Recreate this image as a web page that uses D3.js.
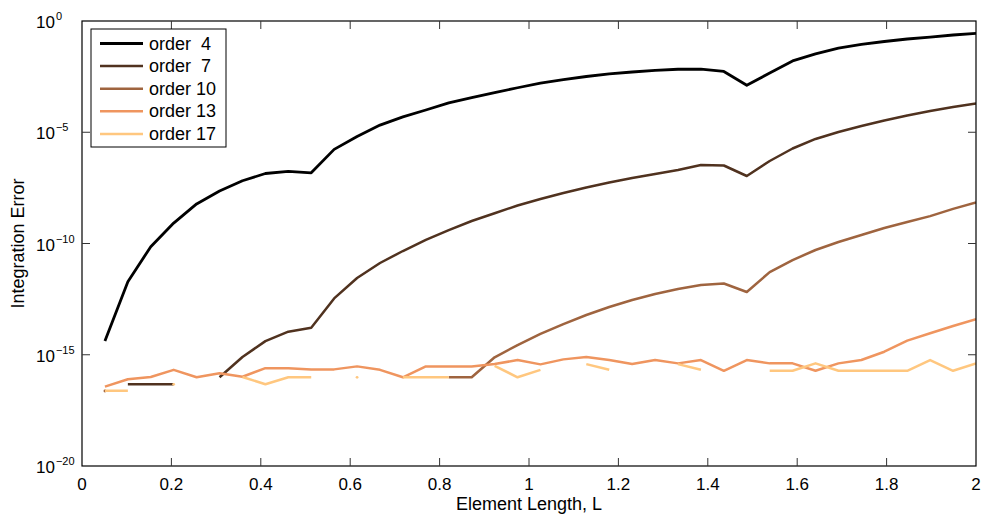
<!DOCTYPE html>
<html>
<head>
<meta charset="utf-8">
<script src="https://cdn.jsdelivr.net/npm/d3@7"></script>
<style>
html,body{margin:0;padding:0;background:#fff;}
svg{display:block;font-family:"Liberation Sans",Arial,Helvetica,sans-serif;}
</style>
</head>
<body>
<div id="chart"></div>
<script>
// element lengths (x)
const lengths = [0.0513,0.1026,0.1538,0.2051,0.2564,0.3077,0.3590,0.4103,0.4615,0.5128,
0.5641,0.6154,0.6667,0.7179,0.7692,0.8205,0.8718,0.9231,0.9744,1.0256,
1.0769,1.1282,1.1795,1.2308,1.2821,1.3333,1.3846,1.4359,1.4872,1.5385,
1.5897,1.6410,1.6923,1.7436,1.7949,1.8462,1.8974,1.9487,2.0000];

// integration error per order (null = exact / not drawn)
const errOrder4 = [4.2e-15,1.9e-12,7.2e-11,8.3e-10,6.0e-9,2.3e-8,6.6e-8,1.4e-7,1.75e-7,1.5e-7,
1.7e-6,6.5e-6,2.1e-5,4.9e-5,1.0e-4,2.1e-4,3.6e-4,6.1e-4,1.0e-3,1.6e-3,
2.3e-3,3.2e-3,4.2e-3,5.1e-3,6.0e-3,6.8e-3,6.9e-3,5.4e-3,1.3e-3,4.6e-3,
1.6e-2,3.3e-2,6.1e-2,8.8e-2,0.12,0.155,0.19,0.235,0.28];

const errOrder7 = [null,4.7e-17,4.7e-17,4.7e-17,null,9.7e-17,7.9e-16,4.1e-15,1.09e-14,1.64e-14,
3.4e-13,2.8e-12,1.33e-11,4.6e-11,1.44e-10,4.0e-10,1.03e-9,2.3e-9,5.1e-9,1.0e-8,
1.86e-8,3.3e-8,5.5e-8,8.8e-8,1.33e-7,2.0e-7,3.4e-7,3.2e-7,1.08e-7,5.1e-7,
1.86e-6,5.0e-6,1.03e-5,1.9e-5,3.4e-5,5.7e-5,9.0e-5,1.36e-4,1.96e-4];

const errOrder10 = [2.35e-17,null,null,null,null,null,null,null,null,null,
null,null,null,null,null,9.7e-17,9.7e-17,7.7e-16,2.7e-15,8.6e-15,
2.4e-14,6.1e-14,1.4e-13,2.9e-13,5.4e-13,9.0e-13,1.36e-12,1.6e-12,6.6e-13,5.2e-12,
1.8e-11,5.1e-11,1.17e-10,2.4e-10,5.0e-10,9.2e-10,1.7e-9,3.6e-9,7.0e-9];

const errOrder13 = [3.7e-17,7.9e-17,1.0e-16,2.1e-16,9.7e-17,1.47e-16,1.03e-16,2.5e-16,2.5e-16,2.2e-16,
2.2e-16,3.0e-16,2.1e-16,9.7e-17,3.0e-16,3.0e-16,3.0e-16,3.8e-16,5.8e-16,3.7e-16,
6.2e-16,7.9e-16,5.8e-16,3.8e-16,5.8e-16,4.1e-16,5.8e-16,1.9e-16,5.8e-16,4.1e-16,
4.1e-16,1.9e-16,4.1e-16,5.8e-16,1.37e-15,4.3e-15,9.2e-15,1.96e-14,4.0e-14];

const errOrder17 = [2.4e-17,2.4e-17,null,4.7e-17,null,null,1.0e-16,4.7e-17,9.7e-17,9.7e-17,
null,9.7e-17,null,9.7e-17,9.7e-17,9.7e-17,null,3.2e-16,9.7e-17,2.1e-16,
null,3.8e-16,2.1e-16,null,null,3.8e-16,2.1e-16,null,null,1.9e-16,
1.9e-16,4.1e-16,1.9e-16,1.9e-16,1.9e-16,1.9e-16,5.8e-16,1.9e-16,4.1e-16];

const seriesNames = ["order  4","order  7","order 10","order 13","order 17"];
const seriesColors = ["#000000","#50321f","#9f643f","#ef955f","#ffc77f"];

const xTicks = [0,0.2,0.4,0.6,0.8,1,1.2,1.4,1.6,1.8,2];
const xTickLabels = ["0","0.2","0.4","0.6","0.8","1","1.2","1.4","1.6","1.8","2"];
const yTicks = [1,1e-5,1e-10,1e-15,1e-20];
const yTickExps = ["0","\u22125","\u221210","\u221215","\u221220"];

(function(){

const width = 981;
const height = 514;
const margin = {top:21,right:5,bottom:48,left:82};

const svg = d3.select("#chart")
.append("svg")
.attr("width",width)
.attr("height",height);

const x = d3.scaleLinear()
.domain([0,2])
.range([margin.left,width-margin.right]);

const y = d3.scaleLog()
.domain([1e-20,1])
.range([height-margin.bottom,margin.top]);

const series = [errOrder4,errOrder7,errOrder10,errOrder13,errOrder17].map((vals,i)=>({
name:seriesNames[i],
color:seriesColors[i],
points:lengths.map((L,j)=>({L:L,v:vals[j]}))
}));

svg.append("clipPath")
.attr("id","plotclip")
.append("rect")
.attr("x",margin.left)
.attr("y",margin.top)
.attr("width",x(2)-x(0))
.attr("height",y(1e-20)-y(1));

// lines
const line = d3.line()
.defined(d=>d.v!=null)
.x(d=>x(d.L))
.y(d=>y(d.v));

const g = svg.append("g").attr("clip-path","url(#plotclip)");

series.forEach(s=>{
g.append("path")
.datum(s.points)
.attr("fill","none")
.attr("stroke",s.color)
.attr("stroke-width",s.name==="order  4"?2.8:2.5)
.attr("stroke-linejoin","round")
.attr("d",line);

// lone points show as small dots
const lone = s.points.filter((d,j,a)=>d.v!=null &&
(j===0||a[j-1].v==null) && (j===a.length-1||a[j+1].v==null));
g.selectAll(null)
.data(lone)
.enter()
.append("circle")
.attr("cx",d=>x(d.L))
.attr("cy",d=>y(d.v))
.attr("r",1.4)
.attr("fill",s.color);
});

// axes box
const x0 = x(0), x1 = x(2), y0 = y(1e-20), y1 = y(1);
const tick = 8;

svg.append("rect")
.attr("x",x0).attr("y",y1)
.attr("width",x1-x0).attr("height",y0-y1)
.attr("fill","none")
.attr("stroke","#000")
.attr("stroke-width",1.2);

xTicks.forEach((t,i)=>{
const xp = x(t);
if(i>0 && i<xTicks.length-1){
svg.append("line").attr("x1",xp).attr("x2",xp).attr("y1",y0).attr("y2",y0-tick)
.attr("stroke","#333").attr("stroke-width",1);
svg.append("line").attr("x1",xp).attr("x2",xp).attr("y1",y1).attr("y2",y1+tick)
.attr("stroke","#333").attr("stroke-width",1);
}
svg.append("text")
.attr("x",xp)
.attr("y",y0+24)
.attr("text-anchor","middle")
.attr("font-size","17px")
.text(xTickLabels[i]);
});

yTicks.forEach((t,i)=>{
const yp = y(t);
if(i>0 && i<yTicks.length-1){
svg.append("line").attr("x1",x0).attr("x2",x0+tick).attr("y1",yp).attr("y2",yp)
.attr("stroke","#333").attr("stroke-width",1);
svg.append("line").attr("x1",x1).attr("x2",x1-tick).attr("y1",yp).attr("y2",yp)
.attr("stroke","#333").attr("stroke-width",1);
}
const txt = svg.append("text")
.attr("x",36)
.attr("y",yp+7)
.attr("font-size","17px");
txt.append("tspan").text("10");
txt.append("tspan")
.attr("dy",-8)
.attr("dx",1)
.attr("font-size","11px")
.text(yTickExps[i]);
});

// legend
const lg = svg.append("g");
lg.append("rect")
.attr("x",91).attr("y",29)
.attr("width",135).attr("height",118)
.attr("fill","#fff")
.attr("stroke","#000")
.attr("stroke-width",1);

series.forEach((s,i)=>{
const ly = 43.5+i*22.6;
lg.append("line")
.attr("x1",100).attr("x2",143)
.attr("y1",ly).attr("y2",ly)
.attr("stroke",s.color)
.attr("stroke-width",s.name==="order  4"?2.8:2.5);
lg.append("text")
.attr("x",149)
.attr("y",ly+6)
.attr("font-size","18px")
.style("white-space","pre")
.text(s.name);
});

// labels
svg.append("text")
.attr("x",(x0+x1)/2)
.attr("y",height-4)
.attr("text-anchor","middle")
.attr("font-size","18px")
.text("Element Length, L");

svg.append("text")
.attr("transform","rotate(-90)")
.attr("x",-(y0+y1)/2)
.attr("y",24)
.attr("text-anchor","middle")
.attr("font-size","18px")
.text("Integration Error");

})();
</script>
</body>
</html>
